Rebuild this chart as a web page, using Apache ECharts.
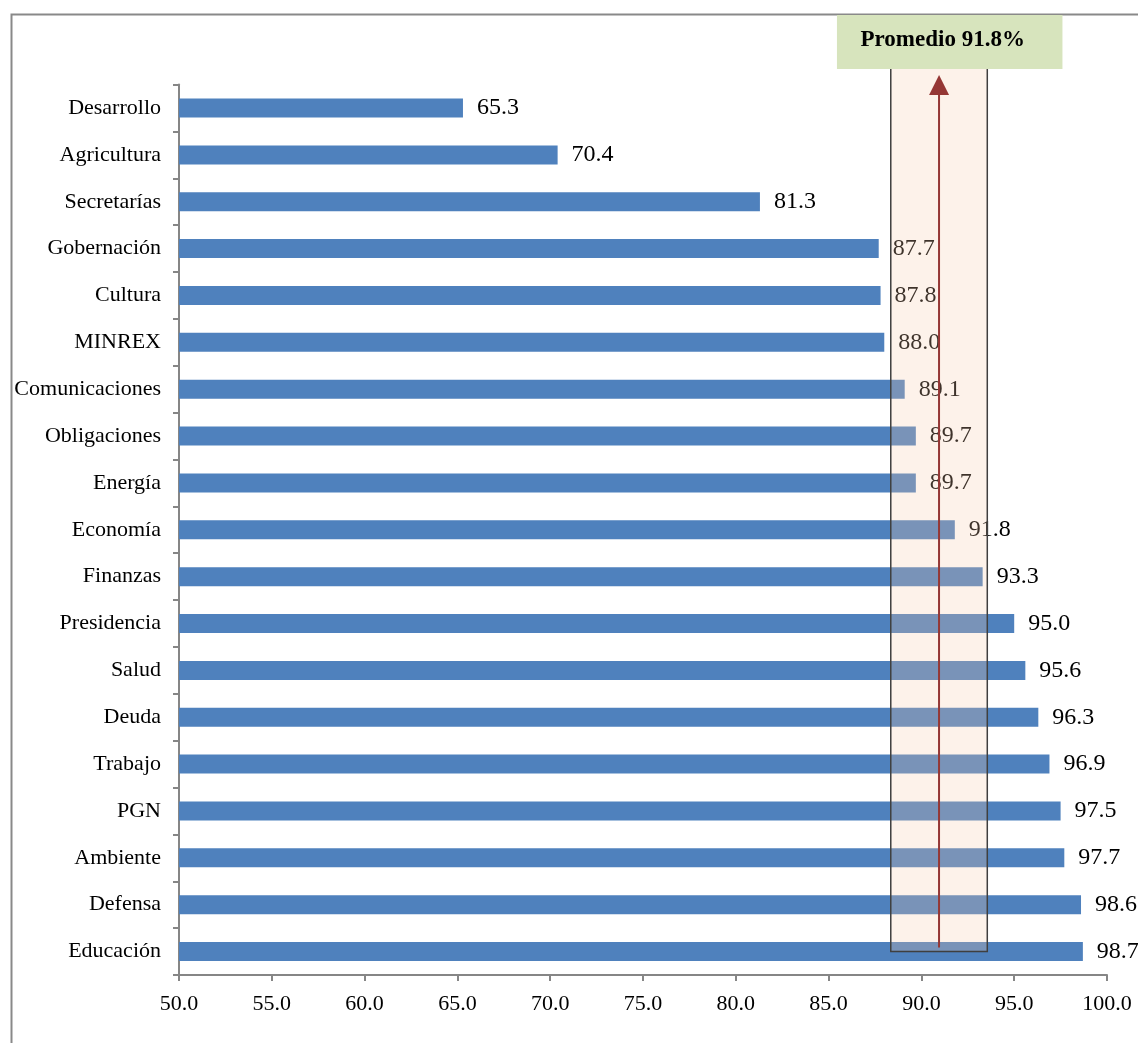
<!DOCTYPE html>
<html>
<head>
<meta charset="utf-8">
<style>
  html, body { margin: 0; padding: 0; background: #ffffff; }
  #chart { width: 1138px; height: 1043px; }
</style>
<script src="https://cdn.jsdelivr.net/npm/echarts@6/dist/echarts.min.js"></script>
</head>
<body>
<div id="chart"></div>
<script>
// Ejecución presupuestaria por sector (%)
const categories = [
  'Desarrollo', 'Agricultura', 'Secretarías', 'Gobernación', 'Cultura', 'MINREX',
  'Comunicaciones', 'Obligaciones', 'Energía', 'Economía', 'Finanzas', 'Presidencia',
  'Salud', 'Deuda', 'Trabajo', 'PGN', 'Ambiente', 'Defensa', 'Educación'
];
const values = [
  65.3, 70.4, 81.3, 87.7, 87.8, 88.0,
  89.1, 89.7, 89.7, 91.8, 93.3, 95.0,
  95.6, 96.3, 96.9, 97.5, 97.7, 98.6, 98.7
];
const xTicks = [50, 55, 60, 65, 70, 75, 80, 85, 90, 95, 100];
const averageValue = 91.8;

// Highlight band, arrow and caption box, in axis units
const bandRange = [88.35, 93.55];
const arrowAt = 90.95;
const captionRange = [85.45, 97.6];

const serif = '"Liberation Serif", "Times New Roman", serif';
const axisGray = '#868686';

const chart = echarts.init(document.getElementById('chart'), null, { renderer: 'canvas' });

chart.setOption({
  animation: false,
  backgroundColor: '#ffffff',
  grid: { left: 179, right: 31, top: 84.6, bottom: 68, containLabel: false },
  xAxis: {
    type: 'value',
    min: xTicks[0],
    max: xTicks[xTicks.length - 1],
    interval: xTicks[1] - xTicks[0],
    axisLine: { show: true, lineStyle: { color: axisGray, width: 2 } },
    axisTick: { show: true, length: 6, lineStyle: { color: axisGray, width: 2 } },
    splitLine: { show: false },
    axisLabel: {
      margin: 18,
      color: '#000000',
      fontFamily: serif,
      fontSize: 22,
      formatter: v => v.toFixed(1)
    }
  },
  yAxis: {
    type: 'category',
    inverse: true,
    data: categories,
    axisLine: { show: true, lineStyle: { color: axisGray, width: 2 } },
    axisTick: { show: true, length: 6, alignWithLabel: false, lineStyle: { color: axisGray, width: 2 } },
    axisLabel: {
      margin: 18,
      color: '#000000',
      fontFamily: serif,
      fontSize: 22
    }
  },
  series: [{
    type: 'bar',
    data: values,
    barWidth: 19,
    itemStyle: { color: '#4F81BD' },
    label: {
      show: true,
      position: 'right',
      distance: 14,
      color: '#000000',
      fontFamily: serif,
      fontSize: 24,
      formatter: p => p.value.toFixed(1)
    }
  }]
});

// Annotations placed through the axis scales
const px = (x, cat) => chart.convertToPixel({ gridIndex: 0 }, [x, cat]);
const bandL = px(bandRange[0], categories[0])[0];
const bandR = px(bandRange[1], categories[0])[0];
const lastY = px(bandRange[0], categories[categories.length - 1])[1];
const bandTop = 67;
const arrowX = px(arrowAt, categories[0])[0];
const capL = px(captionRange[0], categories[0])[0];
const capR = px(captionRange[1], categories[0])[0];

chart.setOption({
  graphic: [
    {
      type: 'rect',
      z: 1,
      shape: { x: 11.5, y: 14.5, width: 1400, height: 1400 },
      style: { fill: 'none', stroke: '#898989', lineWidth: 2 }
    },
    {
      type: 'rect',
      z: 10,
      shape: { x: bandL, y: bandTop, width: bandR - bandL, height: lastY - bandTop },
      style: { fill: 'rgba(247,203,171,0.25)', stroke: '#3f3f3f', lineWidth: 1.5 }
    },
    {
      type: 'line',
      z: 11,
      shape: { x1: arrowX, y1: lastY - 4, x2: arrowX, y2: bandTop + 26 },
      style: { stroke: '#953735', lineWidth: 2 }
    },
    {
      type: 'polygon',
      z: 11,
      shape: { points: [[arrowX, bandTop + 8], [arrowX - 10, bandTop + 28], [arrowX + 10, bandTop + 28]] },
      style: { fill: '#953735' }
    },
    {
      type: 'rect',
      z: 12,
      shape: { x: capL, y: 15, width: capR - capL, height: 54 },
      style: { fill: '#D7E4BD' }
    },
    {
      type: 'text',
      z: 13,
      x: (capL + capR) / 2 - 7,
      y: 40,
      style: {
        text: 'Promedio ' + averageValue.toFixed(1) + '%',
        fill: '#000000',
        font: 'bold 23px ' + serif,
        align: 'center',
        verticalAlign: 'middle'
      }
    }
  ]
});
</script>
</body>
</html>
